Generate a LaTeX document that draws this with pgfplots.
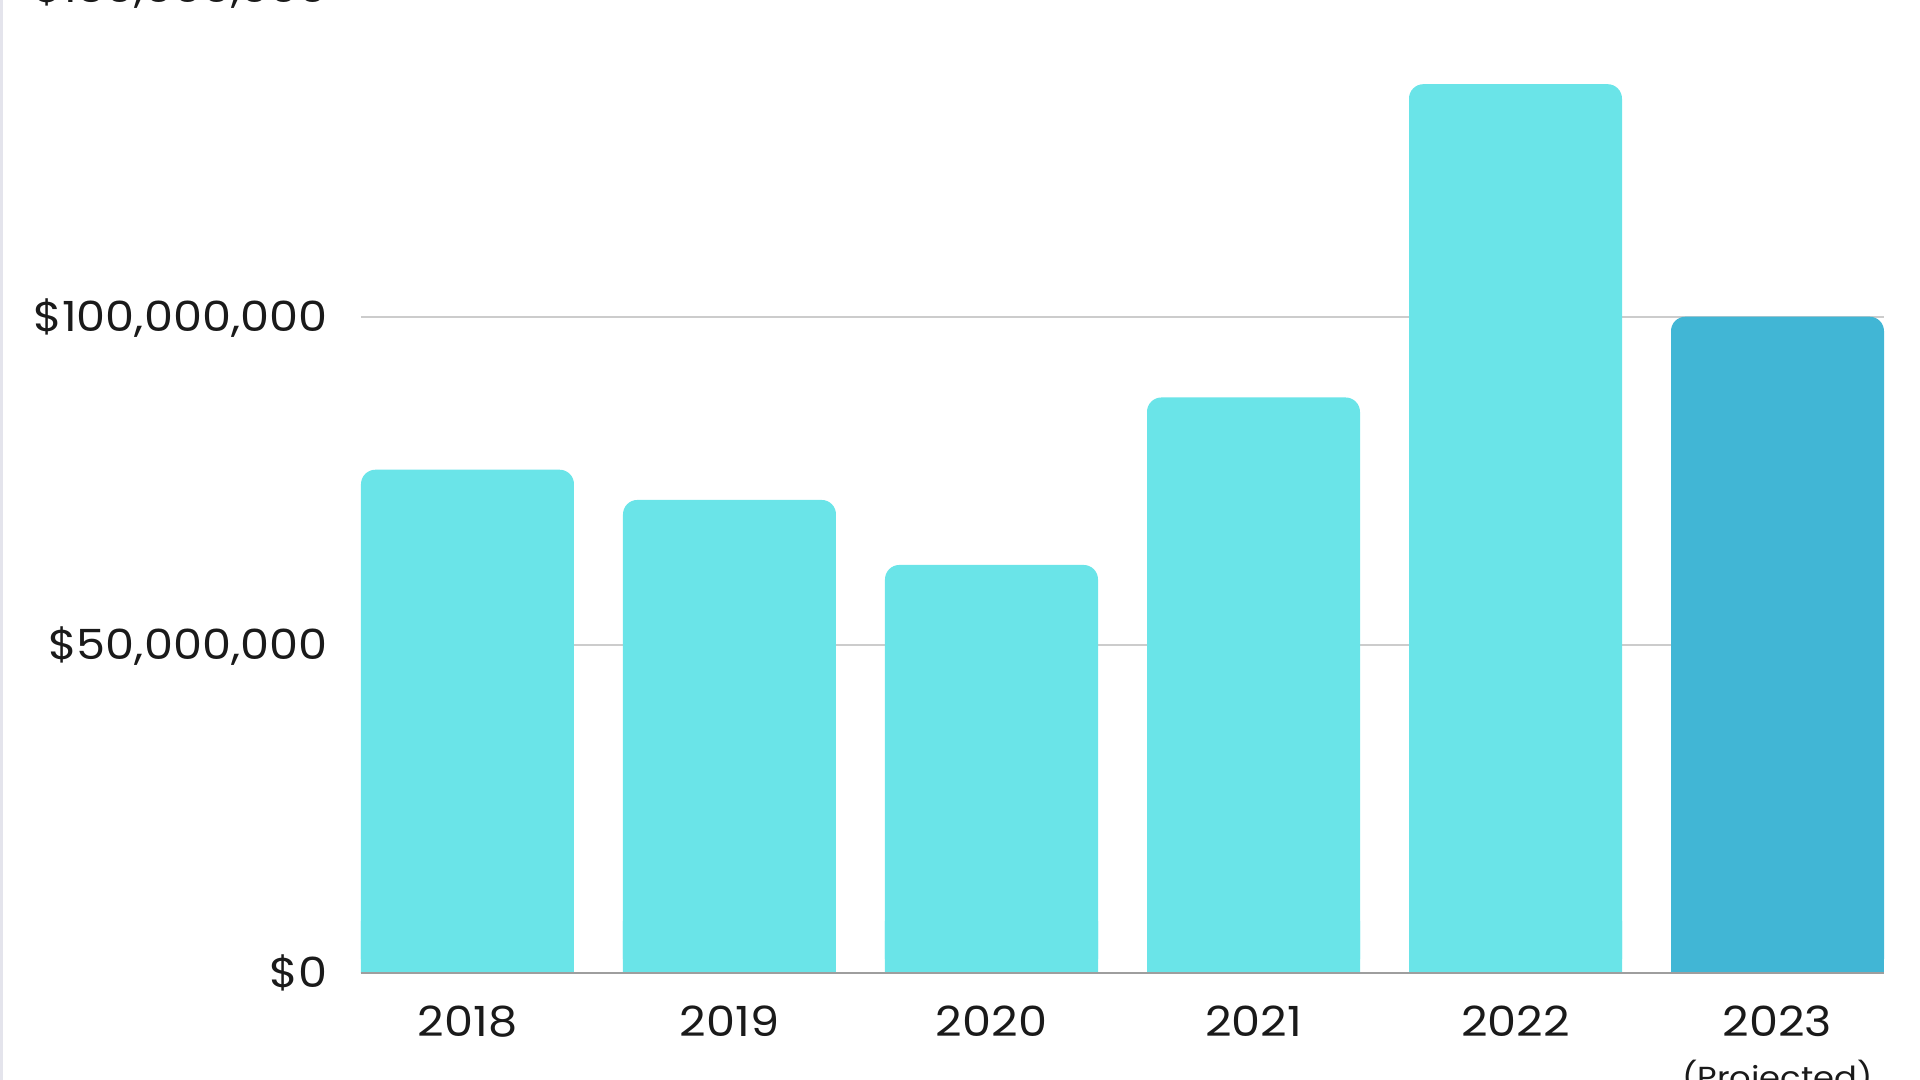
\documentclass[border=0pt]{standalone}
\usepackage{pgfplots}
\pgfplotsset{compat=1.18}
\usepackage{pgfplotstable}
\usepackage{fontspec}
\setmainfont{Poppins}[FakeStretch=1.11]
\definecolor{barcyan}{HTML}{6AE4E8}
\definecolor{barblue}{HTML}{41B6D5}
\definecolor{gridgray}{HTML}{CCCCCC}
\definecolor{axisgray}{HTML}{9E9E9E}
\definecolor{leftgray}{HTML}{E4E4EC}
\definecolor{txt}{HTML}{1A1A1A}
\pgfplotstableread{
x y
0 76700000
1 72100000
2 62200000
3 87700000
4 135400000
}\actual
\pgfplotstableread{
x y
5 100000000
}\projected
\begin{document}
\begin{tikzpicture}
\begin{axis}[
  at={(0,0)}, anchor=south west, scale only axis,
  width=380.75pt, height=246.3pt,
  xmin=-0.4065, xmax=5.4065, ymin=0, ymax=150000000,
  ybar, bar width=53.25pt, bar shift=0pt,
  xtick={0,1,2,3,4,5},
  xticklabels={2018,2019,2020,2021,2022,{2023\\{\fontsize{7.6pt}{9pt}\selectfont (Projected)}}},
  ytick={0,50000000,100000000,150000000},
  yticklabels={{\$0},{\$50,000,000},{\$100,000,000},{\$150,000,000}},
  scaled y ticks=false,
  ymajorgrids, grid style={draw=gridgray, line width=0.5pt},
  major tick length=0pt,
  axis line style={draw=none},
  tick label style={font=\fontsize{10.4pt}{12.9pt}\selectfont, text=txt},
  yticklabel style={anchor=east, inner sep=0pt, xshift=-8.25pt, text height=7.25pt, text depth=0pt},
  xticklabel style={anchor=north, inner sep=0pt, yshift=-7.9pt, align=center},
  clip=false,
]
\addplot[fill=barcyan, draw=none, rounded corners=3.6pt] table[x=x,y=y]{\actual};
\addplot[fill=barcyan, draw=none, y filter/.expression={min(y,8000000)}] table[x=x,y=y]{\actual};
\addplot[fill=barblue, draw=none, rounded corners=3.6pt] table[x=x,y=y]{\projected};
\addplot[fill=barblue, draw=none, y filter/.expression={min(y,8000000)}] table[x=x,y=y]{\projected};
\draw[axisgray, line width=0.5pt] (rel axis cs:0,0) -- (rel axis cs:1,0);
\end{axis}
\fill[leftgray] (-90.25pt,-26.625pt) rectangle (-89.5pt,243.375pt);
\pgfresetboundingbox
\useasboundingbox (-90.25pt,-26.625pt) rectangle (389.75pt,243.375pt);
\end{tikzpicture}
\end{document}
